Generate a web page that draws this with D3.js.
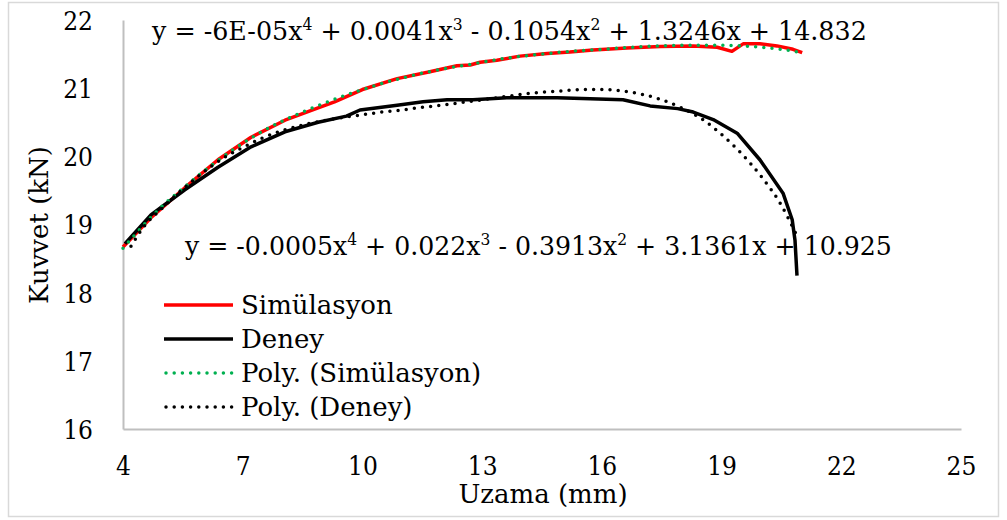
<!DOCTYPE html>
<html>
<head>
<meta charset="utf-8">
<script src="https://cdn.jsdelivr.net/npm/d3@7"></script>
<style>
  html, body { margin: 0; padding: 0; background: #fff; }
  svg text { font-family: "DejaVu Serif", "Liberation Serif", serif; fill: #000; }
</style>
</head>
<body>
<svg id="chart" width="1007" height="520"></svg>
<script>
// Uzama (mm) values and measured force (kN) for each series
const simX = [4.0, 4.7, 5.55, 6.38, 7.21, 8.06, 8.89, 9.3, 10.0, 10.87, 11.69, 12.0, 12.37, 12.7, 12.95, 13.37, 13.95, 14.63, 15.2, 15.78, 16.63, 17.46, 18.29, 18.89, 19.26, 19.54, 19.96, 20.39, 20.79, 21.02];
const simY = [18.67, 19.10, 19.54, 19.95, 20.28, 20.53, 20.71, 20.80, 20.98, 21.14, 21.24, 21.28, 21.33, 21.34, 21.38, 21.41, 21.47, 21.51, 21.53, 21.56, 21.59, 21.61, 21.62, 21.60, 21.54, 21.65, 21.65, 21.62, 21.57, 21.52];

const denX = [4.05, 4.7, 5.55, 6.38, 7.21, 8.06, 8.89, 9.6, 9.94, 10.87, 11.52, 12.12, 12.77, 13.62, 14.88, 15.5, 16.53, 17.21, 17.9, 18.29, 18.79, 19.39, 19.96, 20.54, 20.77, 20.84, 20.89];
const denY = [18.72, 19.14, 19.51, 19.84, 20.14, 20.36, 20.50, 20.59, 20.68, 20.75, 20.80, 20.83, 20.83, 20.86, 20.86, 20.85, 20.83, 20.74, 20.70, 20.65, 20.54, 20.34, 19.95, 19.46, 19.07, 18.77, 18.25];

// polynomial trendlines (4th order)
const polySimX = [4.0, 4.5, 5, 5.5, 6, 6.5, 7, 7.5, 8, 8.5, 9, 9.5, 10, 10.5, 11, 11.5, 12, 12.5, 13, 13.5, 14, 14.5, 15, 15.5, 16, 16.5, 17, 17.5, 18, 18.5, 19, 19.5, 20, 20.5, 21.0];
const polySimY = [18.65, 18.98, 19.28, 19.53, 19.77, 19.99, 20.19, 20.37, 20.52, 20.65, 20.77, 20.88, 20.98, 21.07, 21.15, 21.22, 21.28, 21.33, 21.38, 21.43, 21.47, 21.50, 21.53, 21.55, 21.57, 21.59, 21.61, 21.62, 21.63, 21.63, 21.63, 21.62, 21.60, 21.57, 21.52];

const polyDenX = [4.2, 4.5, 5, 5.5, 6, 6.5, 7, 7.5, 8, 8.5, 9, 9.5, 10, 10.5, 11, 11.5, 12, 12.5, 13, 13.5, 14, 14.5, 15, 15.5, 16, 16.5, 17, 17.5, 18, 18.5, 19, 19.5, 20, 20.5, 20.85];
const polyDenY = [18.68, 18.95, 19.25, 19.52, 19.76, 19.97, 20.13, 20.27, 20.38, 20.46, 20.52, 20.57, 20.61, 20.65, 20.68, 20.72, 20.75, 20.79, 20.83, 20.87, 20.91, 20.94, 20.96, 20.98, 20.98, 20.96, 20.91, 20.83, 20.71, 20.55, 20.32, 20.04, 19.70, 19.28, 18.88];

const xTicks = [4, 7, 10, 13, 16, 19, 22, 25];
const yTicks = [16, 17, 18, 19, 20, 21, 22];
const legendNames = ["Simülasyon", "Deney", "Poly. (Simülasyon)", "Poly. (Deney)"];

const FONT = "26px";
const DIGIT_SQUEEZE = 0.9;   // narrower figures, closer to a Times face
const svg = d3.select("#chart");
const plot = { left: 123, right: 961, top: 20, bottom: 429 };

// outer chart frame
svg.append("rect")
  .attr("x", 8.5).attr("y", 2.5).attr("width", 990).attr("height", 514)
  .attr("fill", "#fff").attr("stroke", "#d9d9d9").attr("stroke-width", 1.5);

const x = d3.scaleLinear().domain([4, 25]).range([plot.left, plot.right]);
const y = d3.scaleLinear().domain([16, 22]).range([plot.bottom, plot.top]);

// axes: no tick marks, grey domain line
const xAxis = svg.append("g")
  .attr("transform", `translate(0,${plot.bottom})`)
  .call(d3.axisBottom(x).tickValues(xTicks).tickSize(0).tickPadding(0).tickFormat(d3.format("d")));
xAxis.attr("font-family", null);
xAxis.select(".domain").attr("stroke", "#bfbfbf").attr("stroke-width", 2);
xAxis.selectAll("text")
  .attr("y", 0).attr("dy", null)
  .attr("transform", `translate(0,46) scale(${DIGIT_SQUEEZE},1)`)
  .style("font-size", FONT);

const yAxis = svg.append("g")
  .attr("transform", `translate(${plot.left},0)`)
  .call(d3.axisLeft(y).tickValues(yTicks).tickSize(0).tickPadding(0).tickFormat(d3.format("d")));
yAxis.attr("font-family", null);
yAxis.select(".domain").attr("stroke", "#bfbfbf").attr("stroke-width", 2);
yAxis.selectAll("text")
  .attr("x", 0).attr("dy", "0.36em")
  .attr("transform", `translate(-30,0) scale(${DIGIT_SQUEEZE},1)`)
  .style("font-size", FONT);

// axis titles
svg.append("text")
  .attr("x", 543).attr("y", 503)
  .attr("text-anchor", "middle")
  .style("font-size", FONT)
  .text("Uzama (mm)");

svg.append("text")
  .attr("transform", "translate(48,225) rotate(-90)")
  .attr("text-anchor", "middle")
  .style("font-size", FONT)
  .text("Kuvvet (kN)");

const line = (xs, ys) => d3.line()
  .x(i => x(xs[i]))
  .y(i => y(ys[i]))(d3.range(xs.length));

const smooth = (xs, ys) => d3.line()
  .curve(d3.curveMonotoneX)
  .x(i => x(xs[i]))
  .y(i => y(ys[i]))(d3.range(xs.length));

// measured series
svg.append("path").attr("d", line(simX, simY))
  .attr("fill", "none").attr("stroke", "#ff0000").attr("stroke-width", 3.5)
  .attr("stroke-linejoin", "round");
svg.append("path").attr("d", line(denX, denY))
  .attr("fill", "none").attr("stroke", "#000").attr("stroke-width", 3.5)
  .attr("stroke-linejoin", "round");

// trendlines (round dots)
svg.append("path").attr("d", smooth(polySimX, polySimY))
  .attr("fill", "none").attr("stroke", "#00b050").attr("stroke-width", 3.5)
  .attr("stroke-linecap", "round").attr("stroke-dasharray", "0 8.2");
svg.append("path").attr("d", smooth(polyDenX, polyDenY))
  .attr("fill", "none").attr("stroke", "#000").attr("stroke-width", 3.5)
  .attr("stroke-linecap", "round").attr("stroke-dasharray", "0 8.2");

// trendline equations; exponents are raised, smaller tspans.
// Each equation is squeezed horizontally to span the given width.
function equation(xPos, yPos, width, parts) {
  const t = svg.append("text").attr("x", 0).attr("y", 0).style("font-size", FONT);
  let raised = false;
  parts.forEach(p => {
    const isSup = p.length === 1;
    const ts = t.append("tspan").text(p);
    if (isSup) {
      ts.attr("dy", -10).style("font-size", "16px");
      raised = true;
    } else if (raised) {
      ts.attr("dy", 10);
      raised = false;
    }
  });
  const w = t.node().getBBox().width;
  const s = w > 0 ? width / w : 1;
  t.attr("transform", `translate(${xPos},${yPos}) scale(${s},1)`);
}
equation(152, 40, 716, ["y = -6E-05x", "4", " + 0.0041x", "3", " - 0.1054x", "2", " + 1.3246x + 14.832"]);
equation(185, 255, 708, ["y = -0.0005x", "4", " + 0.022x", "3", " - 0.3913x", "2", " + 3.1361x + 10.925"]);

// legend
const legendStyles = [
  { color: "#ff0000", dash: null, cap: "butt" },
  { color: "#000", dash: null, cap: "butt" },
  { color: "#00b050", dash: "0 8.2", cap: "round" },
  { color: "#000", dash: "0 8.2", cap: "round" }
];
const lg = svg.append("g");
legendNames.forEach((name, i) => {
  const cy = 305 + i * 34;
  const st = legendStyles[i];
  lg.append("line")
    .attr("x1", st.dash ? 166 : 164).attr("x2", 233).attr("y1", cy).attr("y2", cy)
    .attr("stroke", st.color).attr("stroke-width", 3.5)
    .attr("stroke-linecap", st.cap)
    .attr("stroke-dasharray", st.dash);
  lg.append("text").attr("x", 241).attr("y", cy + 9)
    .style("font-size", FONT).text(name);
});
</script>
</body>
</html>
